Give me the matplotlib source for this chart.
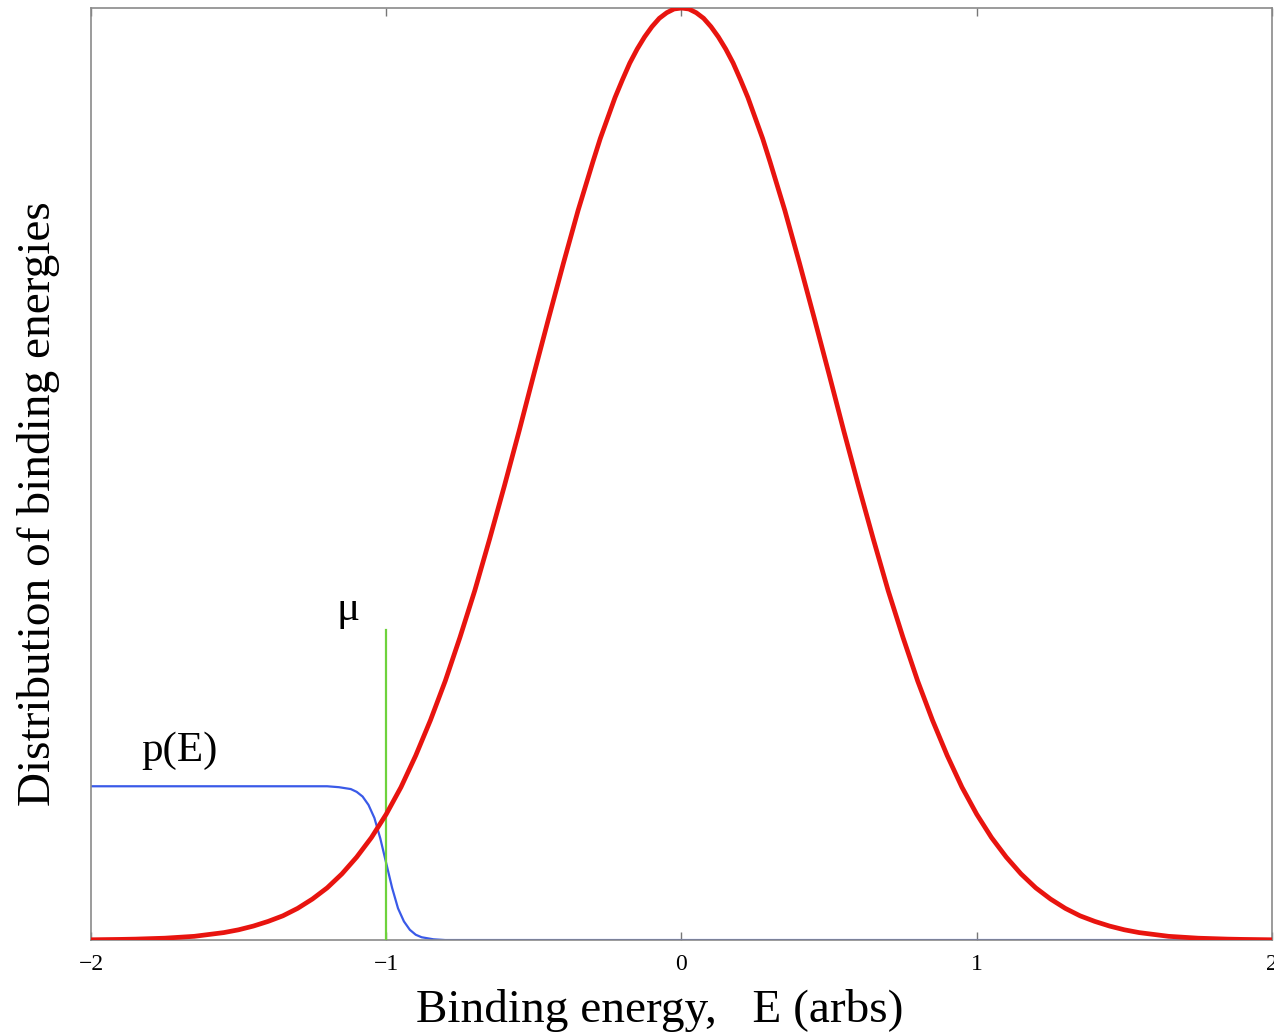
import matplotlib
matplotlib.use("Agg")
import matplotlib.pyplot as plt

# Distribution of binding energies (red), read at 0.05 steps (0.025 near the peak)
energy = [-2.00, -1.95, -1.90, -1.85, -1.80, -1.75, -1.70, -1.65, -1.60, -1.55,
          -1.50, -1.45, -1.40, -1.35, -1.30, -1.25, -1.20, -1.15, -1.10, -1.05,
          -1.00, -0.95, -0.90, -0.85, -0.80, -0.75, -0.70, -0.65, -0.60, -0.55,
          -0.50, -0.45, -0.40, -0.35, -0.30, -0.275, -0.25, -0.225, -0.20, -0.175,
          -0.15, -0.125, -0.10, -0.075, -0.05, -0.025,
          0.00, 0.025, 0.05, 0.075, 0.10, 0.125, 0.15, 0.175, 0.20, 0.225,
          0.25, 0.275, 0.30, 0.35, 0.40, 0.45,
          0.50, 0.55, 0.60, 0.65, 0.70, 0.75, 0.80, 0.85, 0.90, 0.95,
          1.00, 1.05, 1.10, 1.15, 1.20, 1.25, 1.30, 1.35, 1.40, 1.45,
          1.50, 1.55, 1.60, 1.65, 1.70, 1.75, 1.80, 1.85, 1.90, 1.95, 2.00]
distribution = [0.0003, 0.0005, 0.0007, 0.001, 0.0015, 0.002, 0.003, 0.004, 0.006, 0.008,
                0.011, 0.015, 0.020, 0.026, 0.034, 0.044, 0.056, 0.071, 0.089, 0.110,
                0.135, 0.164, 0.198, 0.236, 0.278, 0.325, 0.375, 0.430, 0.487, 0.546,
                0.607, 0.667, 0.726, 0.783, 0.835, 0.860, 0.882, 0.904, 0.923, 0.941,
                0.956, 0.969, 0.980, 0.989, 0.995, 0.999,
                1.000, 0.999, 0.995, 0.989, 0.980, 0.969, 0.956, 0.941, 0.923, 0.904,
                0.882, 0.860, 0.835, 0.783, 0.726, 0.667,
                0.607, 0.546, 0.487, 0.430, 0.375, 0.325, 0.278, 0.236, 0.198, 0.164,
                0.135, 0.110, 0.089, 0.071, 0.056, 0.044, 0.034, 0.026, 0.020, 0.015,
                0.011, 0.008, 0.006, 0.004, 0.003, 0.002, 0.0015, 0.001, 0.0007, 0.0005, 0.0003]

# Occupation p(E) (blue)
p_energy = [-2.00, -1.20, -1.16, -1.12, -1.10, -1.08, -1.06, -1.04, -1.02, -1.00,
            -0.98, -0.96, -0.94, -0.92, -0.90, -0.88, -0.84, -0.80, 2.00]
p_values = [0.165, 0.165, 0.164, 0.162, 0.159, 0.154, 0.145, 0.131, 0.109, 0.0825,
            0.056, 0.034, 0.020, 0.011, 0.0057, 0.003, 0.0008, 0.0, 0.0]

# Chemical potential marker
mu_x = [-1.0, -1.0]
mu_y = [0.0, 0.333]

xticks = [-2, -1, 0, 1, 2]
xticklabels = ["\u22122", "\u22121", "0", "1", "2"]

plt.rcParams['font.family'] = ['Liberation Serif', 'DejaVu Serif']

fig = plt.figure(figsize=(12.74, 10.32), dpi=100)
ax = fig.add_axes([0.0714, 0.0891, 0.9270, 0.9031])

ax.plot(p_energy, p_values, color='#3a5ae8', lw=1.6, zorder=2,
        solid_joinstyle='round')
ax.plot(mu_x, mu_y, color='#6ed23c', lw=1.6, zorder=3)
ax.plot(energy, distribution, color='#e8140f', lw=3.4, zorder=4,
        solid_joinstyle='round')

ax.set_xlim(-2, 2)
ax.set_ylim(0, 1)
ax.set_xticks(xticks)
ax.set_xticklabels(xticklabels, fontsize=17)
ax.set_yticks([])
ax.tick_params(axis='x', direction='in', length=6, width=1, color='#777777',
               top=True, pad=10)
for s in ax.spines.values():
    s.set_color('#8a8a8a')
    s.set_linewidth(1.2)

ax.set_xlabel('Binding energy,   E (arbs)', fontsize=34)
ax.xaxis.set_label_coords(0.482, -0.052)
ax.set_ylabel('Distribution of binding energies', fontsize=34)
ax.yaxis.set_label_coords(-0.026, 0.468)

ax.text(-1.13, 0.354, '\u03bc', fontsize=31, ha='center', va='center')
ax.text(-1.70, 0.203, 'p(E)', fontsize=31, ha='center', va='center')

fig.savefig('out.png', dpi=100)
